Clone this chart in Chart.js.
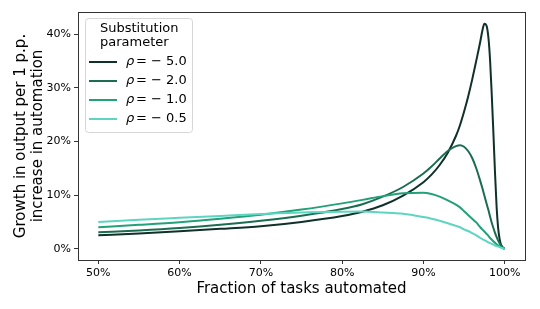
<!DOCTYPE html>
<html>
<head>
<meta charset="utf-8">
<script src="https://cdn.jsdelivr.net/npm/chart.js@4/dist/chart.umd.min.js"></script>
<style>
  body { margin: 0; background: #fff; }
  #wrap { width: 540px; height: 309px; }
</style>
</head>
<body>
<div id="wrap"><canvas id="growthChart"></canvas></div>
<script>
// Fraction of tasks automated (%)
const taskShare = [50, 55, 60, 65, 70, 75, 80, 82.5, 85, 87.5, 90, 91, 92, 93, 94, 94.5, 95, 95.5, 96, 96.5,
    97, 97.25, 97.5, 97.75, 98, 98.2, 98.4, 98.6, 98.8, 99, 99.2, 99.4, 99.6, 99.8, 100]
// Growth in output per 1 p.p. increase in automation (%)
const rhoMinus5 = [2.5, 2.85, 3.25, 3.7, 4.2, 5.0, 6.1, 6.9, 8.1, 9.9, 12.4, 13.8, 15.6, 17.9, 21.0, 23.0, 25.5, 28.3, 31.5, 35.0,
    38.6, 40.6, 41.9, 41.6, 39.3, 35.2, 29.0, 22.0, 14.5, 8.0, 3.8, 1.6, 0.6, 0.15, 0]
const rhoMinus2 = [3.05, 3.4, 3.85, 4.45, 5.2, 6.15, 7.4, 8.3, 9.7, 11.5, 14.0, 15.3, 16.8, 18.2, 19.1, 19.3, 19.0, 18.2, 16.9, 15.0,
    12.6, 11.3, 9.9, 8.5, 7.2, 6.0, 4.9, 3.9, 3.0, 2.2, 1.5, 0.95, 0.5, 0.2, 0]
const rhoMinus1 = [4.0, 4.45, 4.95, 5.6, 6.35, 7.3, 8.45, 9.1, 9.8, 10.35, 10.45, 10.2, 9.7, 9.0, 8.2, 7.7, 7.0, 6.3, 5.6, 4.9,
    4.0, 3.6, 3.2, 2.8, 2.4, 2.0, 1.7, 1.4, 1.1, 0.85, 0.6, 0.4, 0.25, 0.1, 0]
const rhoMinusHalf = [5.0, 5.4, 5.75, 6.1, 6.45, 6.75, 6.9, 6.92, 6.75, 6.5, 5.9, 5.6, 5.2, 4.75, 4.25, 4.0, 3.6, 3.3, 2.9, 2.5,
    2.0, 1.8, 1.6, 1.4, 1.2, 1.05, 0.9, 0.75, 0.6, 0.5, 0.38, 0.27, 0.17, 0.07, 0]

const rhoLabels = ['\u2212 5.0', '\u2212 2.0', '\u2212 1.0', '\u2212 0.5']
const lineColors = ['#10302a', '#1b6c50', '#22a078', '#5dd5c0']
const xTicks = [50, 60, 70, 80, 90, 100]
const yTicks = [0, 10, 20, 30, 40]

const FONT = 'DejaVu Sans'

const makeSet = (values, i) => ({
    label: rhoLabels[i],
    data: taskShare.map((x, k) => ({ x: x, y: values[k] })),
    borderColor: lineColors[i],
    backgroundColor: lineColors[i],
    borderWidth: 2,
    pointRadius: 0,
    cubicInterpolationMode: 'monotone',
    fill: false,
    order: 4 - i
})

// full box frame like matplotlib
const framePlugin = {
    id: 'frame',
    afterDraw: (chart) => {
        const a = chart.chartArea
        const ctx = chart.ctx
        ctx.save()
        ctx.strokeStyle = '#333'
        ctx.lineWidth = 1
        ctx.strokeRect(Math.round(a.left) + 0.5, Math.round(a.top) + 0.5,
            Math.round(a.right - a.left), Math.round(a.bottom - a.top))
        ctx.restore()
    }
}

// legend box with two-line title
const legendPlugin = {
    id: 'rhoLegend',
    afterDraw: (chart) => {
        const ctx = chart.ctx
        ctx.save()
        const bx = 85.5, by = 18.5, bw = 107, bh = 114, r = 3
        ctx.beginPath()
        ctx.moveTo(bx + r, by)
        ctx.arcTo(bx + bw, by, bx + bw, by + bh, r)
        ctx.arcTo(bx + bw, by + bh, bx, by + bh, r)
        ctx.arcTo(bx, by + bh, bx, by, r)
        ctx.arcTo(bx, by, bx + bw, by, r)
        ctx.closePath()
        ctx.fillStyle = 'rgba(255,255,255,0.8)'
        ctx.fill()
        ctx.strokeStyle = '#d6d6d6'
        ctx.lineWidth = 1
        ctx.stroke()

        ctx.fillStyle = '#000'
        ctx.textBaseline = 'middle'
        ctx.textAlign = 'left'
        ctx.font = '13px "' + FONT + '"'
        ctx.fillText('Substitution', 100, 29)
        ctx.fillText('parameter', 100, 43)

        rhoLabels.forEach((lab, i) => {
            const y = 62 + i * 19
            ctx.strokeStyle = lineColors[i]
            ctx.lineWidth = 2
            ctx.beginPath()
            ctx.moveTo(89, y)
            ctx.lineTo(117, y)
            ctx.stroke()
            ctx.font = 'italic 13px "' + FONT + '"'
            ctx.fillText('\u03c1', 126, y)
            ctx.font = '13px "' + FONT + '"'
            ctx.fillText('= ' + lab, 136, y)
        })
        ctx.restore()
    }
}

const canvas = document.querySelector('canvas#growthChart')
const growthChart = new Chart(canvas, {
    type: 'line',
    data: {
        datasets: [
            makeSet(rhoMinus5, 0),
            makeSet(rhoMinus2, 1),
            makeSet(rhoMinus1, 2),
            makeSet(rhoMinusHalf, 3)
        ]
    },
    options: {
        responsive: true,
        maintainAspectRatio: false,
        animation: false,
        layout: { padding: { left: 0, right: 15, top: 12, bottom: 0 } },
        plugins: {
            legend: { display: false },
            tooltip: { enabled: false }
        },
        scales: {
            x: {
                type: 'linear',
                min: 47.5,
                max: 102.5,
                afterBuildTicks: (scale) => { scale.ticks = xTicks.map(v => ({ value: v })) },
                afterFit: (scale) => { scale.height = 49 },
                grid: { display: true, drawOnChartArea: false, tickLength: 4, tickColor: '#333' },
                border: { display: false },
                ticks: {
                    color: '#000',
                    padding: 3,
                    maxRotation: 0,
                    font: { family: FONT, size: 11 },
                    callback: (v) => v + '%'
                },
                title: {
                    display: true,
                    text: 'Fraction of tasks automated',
                    color: '#000',
                    font: { family: FONT, size: 15 },
                    padding: { top: 0, bottom: 11 }
                }
            },
            y: {
                type: 'linear',
                min: -2.1,
                max: 44.1,
                afterBuildTicks: (scale) => { scale.ticks = yTicks.map(v => ({ value: v })) },
                afterFit: (scale) => { scale.width = 78 },
                grid: { display: true, drawOnChartArea: false, tickLength: 4, tickColor: '#333' },
                border: { display: false },
                ticks: {
                    color: '#000',
                    padding: 3,
                    font: { family: FONT, size: 11 },
                    callback: (v) => v + '%'
                },
                title: {
                    display: true,
                    text: ['Growth in output per 1 p.p.', 'increase in automation'],
                    color: '#000',
                    font: { family: FONT, size: 15, lineHeight: 1.15 },
                    padding: { top: 12, bottom: 0 }
                }
            }
        }
    },
    plugins: [framePlugin, legendPlugin]
})
</script>
</body>
</html>
